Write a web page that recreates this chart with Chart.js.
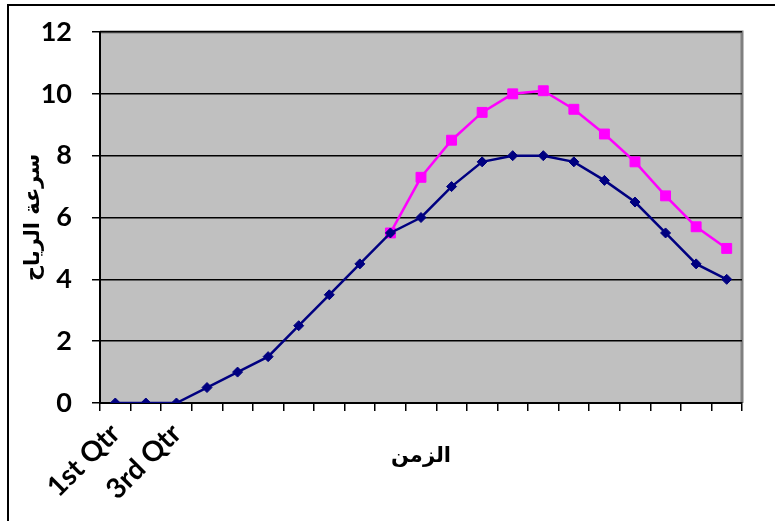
<!DOCTYPE html>
<html>
<head>
<meta charset="utf-8">
<script src="https://cdn.jsdelivr.net/npm/chart.js@4"></script>
<style>
  html, body { margin: 0; padding: 0; background: #fff; }
  #wrap { width: 775px; height: 521px; position: relative; }
</style>
</head>
<body>
<div id="wrap"><canvas id="chart" width="775" height="521"></canvas></div>
<script>
"use strict"

// categories (only two labels shown on the original axis)
var labels = ["1st Qtr", "", "3rd Qtr", "", "", "", "", "", "", "", "",
              "", "", "", "", "", "", "", "", "", ""];

// navy series (diamonds)
var speedA = [0, 0, 0, 0.5, 1, 1.5, 2.5, 3.5, 4.5, 5.5, 6,
              7, 7.8, 8, 8, 7.8, 7.2, 6.5, 5.5, 4.5, 4];

// magenta series (squares), starts where it meets the navy line
var speedB = [null, null, null, null, null, null, null, null, null, 5.5, 7.3,
              8.5, 9.4, 10, 10.1, 9.5, 8.7, 7.8, 6.7, 5.7, 5];

var yTicks = [0, 2, 4, 6, 8, 10, 12];

var yTitle = "سرعة الرياح";
var xTitle = "الزمن";

// grey plot area + frame round the picture
var plotBack = {
    id: "plotBack",
    beforeDraw: function(chart){
        var ctx = chart.ctx;
        var a = chart.chartArea;
        ctx.save();
        ctx.fillStyle = "#c0c0c0";
        ctx.fillRect(a.left, a.top, a.right - a.left, a.bottom - a.top);
        ctx.strokeStyle = "#808080";
        ctx.lineWidth = 3;
        ctx.beginPath();
        ctx.moveTo(a.left, a.top);
        ctx.lineTo(a.right, a.top);
        ctx.lineTo(a.right, a.bottom);
        ctx.stroke();
        ctx.restore();
    },
    afterDraw: function(chart){
        var ctx = chart.ctx;
        ctx.save();
        ctx.strokeStyle = "#000";
        ctx.lineWidth = 2;
        ctx.beginPath();
        ctx.moveTo(8, 521);
        ctx.lineTo(8, 5);
        ctx.lineTo(775, 5);
        ctx.stroke();
        ctx.restore();
    }
};

var chart = new Chart(document.getElementById("chart"), {
    type: "line",
    data: {
        labels: labels,
        datasets: [{
            label: "A",
            data: speedA,
            borderColor: "#000080",
            backgroundColor: "#000080",
            borderWidth: 2.5,
            pointStyle: "rectRot",
            pointRadius: 5,
            pointBorderWidth: 1,
            tension: 0
        }, {
            label: "B",
            data: speedB,
            borderColor: "#ff00ff",
            backgroundColor: "#ff00ff",
            borderWidth: 2.5,
            pointStyle: "rect",
            pointRadius: 7,
            pointBorderWidth: 1,
            tension: 0
        }]
    },
    options: {
        responsive: false,
        animation: false,
        layout: { padding: { left: 0, right: 33, top: 32, bottom: 0 } },
        plugins: {
            legend: { display: false },
            tooltip: { enabled: false }
        },
        scales: {
            x: {
                offset: true,
                grid: {
                    offset: true,
                    drawOnChartArea: false,
                    drawTicks: true,
                    tickLength: 8,
                    color: "#000",
                    lineWidth: 1.5
                },
                border: { display: true, color: "#000", width: 2 },
                ticks: {
                    autoSkip: false,
                    maxRotation: 45,
                    minRotation: 45,
                    padding: 6,
                    color: "#000",
                    font: { family: "Lato", size: 28, weight: "bold" }
                },
                title: {
                    display: true,
                    text: xTitle,
                    color: "#000",
                    font: { family: "DejaVu Sans", size: 21, weight: "bold" },
                    padding: { top: 0, bottom: 52 }
                },
                afterFit: function(scale){
                    scale.height = 118;
                    scale.paddingLeft = 0;
                    scale.paddingRight = 0;
                }
            },
            y: {
                min: 0,
                max: 12,
                afterBuildTicks: function(scale){
                    scale.ticks = yTicks.map(function(v){ return { value: v }; });
                },
                grid: {
                    color: "#000",
                    lineWidth: 1.5,
                    drawTicks: true,
                    tickLength: 8
                },
                border: { display: true, color: "#000", width: 2 },
                ticks: {
                    padding: 20,
                    color: "#000",
                    font: { family: "Lato", size: 27, weight: "bold" }
                },
                title: {
                    display: true,
                    text: yTitle,
                    color: "#000",
                    font: { family: "DejaVu Sans", size: 21, weight: "bold" },
                    padding: { top: 21, bottom: 0 }
                },
                afterFit: function(scale){
                    scale.width = 100;
                    scale.paddingTop = 0;
                    scale.paddingBottom = 0;
                }
            }
        }
    },
    plugins: [plotBack]
});
</script>
</body>
</html>
